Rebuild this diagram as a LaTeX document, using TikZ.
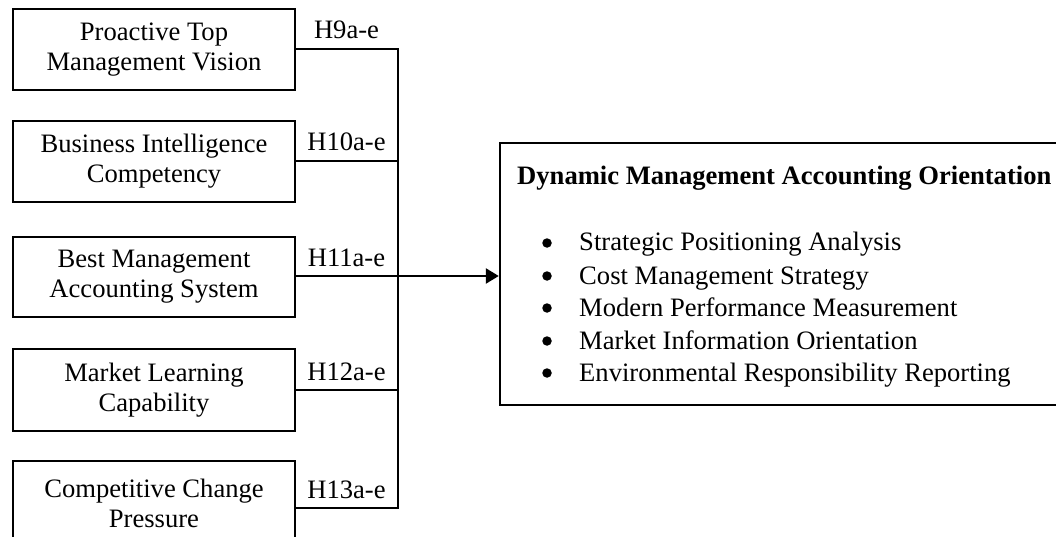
\documentclass[tikz,border=0pt]{standalone}
\usepackage{fontspec}
\setmainfont{Liberation Serif}
\usetikzlibrary{arrows.meta}
\begin{document}
\begin{tikzpicture}[x=1pt,y=-1pt,line width=2.4pt,
  txt/.style={font=\fontsize{26.6}{30}\selectfont},
  box/.style={draw,txt,line width=2.4pt,minimum width=282pt,align=center,inner sep=0pt},
  hlab/.style={txt,inner sep=0pt,anchor=base},
  bul/.style={circle,fill,draw=none,inner sep=0pt,minimum size=9.5pt},
  itm/.style={txt,inner sep=0pt,anchor=base west}]
\useasboundingbox (0,0) rectangle (1056,537);
% left boxes
\node[box,minimum height=81pt] (b1) at (154,49.5) {Proactive Top\\Management Vision};
\node[box,minimum height=81pt] (b2) at (154,161.5) {Business Intelligence\\Competency};
\node[box,minimum height=80pt] (b3) at (154,277) {Best Management\\Accounting System};
\node[box,minimum height=82pt] (b4) at (154,390) {Market Learning\\Capability};
\node[box,minimum height=85pt] (b5) at (154,503.5) {Competitive Change\\Pressure};
% junctions on the bus
\coordinate (j1) at (398,49);
\coordinate (j2) at (398,161);
\coordinate (j3) at (398,276);
\coordinate (j4) at (398,390);
\coordinate (j5) at (398,508);
% right box
\node[draw,minimum width=580pt,minimum height=262pt,inner sep=0pt] (dm) at (790,274) {};
\node[itm,font=\fontsize{26.6}{30}\selectfont\bfseries] (t0) at (516,185) {Dynamic Management Accounting Orientation};
\node[bul] (u1) at (547,243) {};
\node[itm] (i1) at (578,251) {Strategic Positioning Analysis};
\node[bul] (u2) at (547,276) {};
\node[itm] (i2) at (578,284) {Cost Management Strategy};
\node[bul] (u3) at (547,308) {};
\node[itm] (i3) at (578,316) {Modern Performance Measurement};
\node[bul] (u4) at (547,341) {};
\node[itm] (i4) at (578,349) {Market Information Orientation};
\node[bul] (u5) at (547,373) {};
\node[itm] (i5) at (578,381) {Environmental Responsibility Reporting};
% connectors
\draw (j1 -| b1.east) -- (j1) -- (j5) -- (j5 -| b5.east);
\draw (j2 -| b2.east) -- (j2);
\draw (j4 -| b4.east) -- (j4);
\draw[-{Triangle[length=13pt,width=15pt]}] (j3 -| b3.east) -- (j3 -| dm.west);
% labels
\node[hlab] (l1) at (346.5,39) {H9a-e};
\node[hlab] (l2) at (346.5,151) {H10a-e};
\node[hlab] (l3) at (346.5,266) {H11a-e};
\node[hlab] (l4) at (346.5,380) {H12a-e};
\node[hlab] (l5) at (346.5,498) {H13a-e};
\end{tikzpicture}
\end{document}
